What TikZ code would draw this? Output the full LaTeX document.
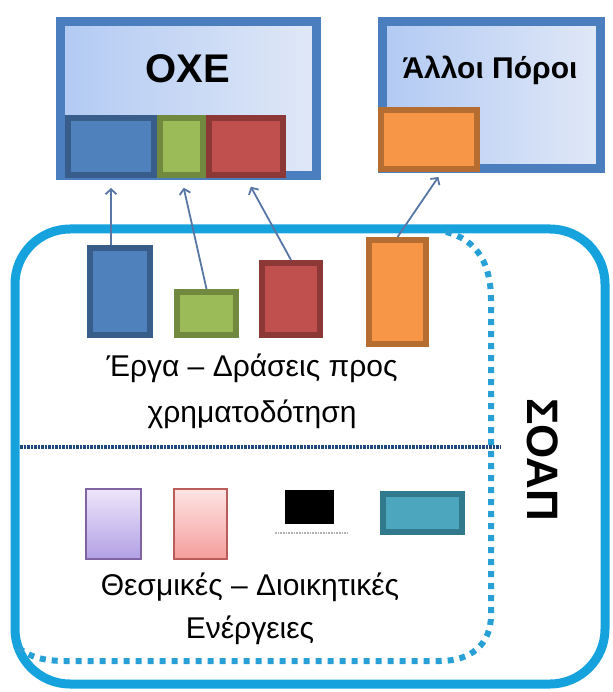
\documentclass[tikz,border=0pt]{standalone}
\usepackage{fontspec}
\setmainfont{Liberation Sans}
\usetikzlibrary{arrows.meta,calc}

\definecolor{soapcyan}{RGB}{22,163,221}
\definecolor{soapdot}{RGB}{40,160,214}
\definecolor{oxeline}{RGB}{74,126,190}
\definecolor{oxeleft}{RGB}{178,202,243}
\definecolor{oxeright}{RGB}{224,232,247}
\definecolor{pblue}{RGB}{79,129,189}
\definecolor{pbluedark}{RGB}{56,93,138}
\definecolor{pgreen}{RGB}{155,187,89}
\definecolor{pgreendark}{RGB}{113,137,63}
\definecolor{pred}{RGB}{192,80,77}
\definecolor{preddark}{RGB}{140,56,54}
\definecolor{porange}{RGB}{247,150,70}
\definecolor{porangedark}{RGB}{182,109,49}
\definecolor{pteal}{RGB}{75,166,190}
\definecolor{ptealdark}{RGB}{49,122,142}
\definecolor{lavtop}{RGB}{238,230,251}
\definecolor{lavbot}{RGB}{178,160,228}
\definecolor{lavline}{RGB}{128,100,162}
\definecolor{rosetop}{RGB}{253,228,227}
\definecolor{rosebot}{RGB}{244,158,156}
\definecolor{roseline}{RGB}{186,92,90}
\definecolor{arrowblue}{RGB}{88,118,165}
\definecolor{sepnavy}{RGB}{31,73,125}

\begin{document}
\begin{tikzpicture}[x=1pt,y=-1pt,
  fund/.style={draw=oxeline, line width=9pt, left color=oxeleft, right color=oxeright, inner sep=0pt},
  proj/.style 2 args={draw=#2, fill=#1, line width=6pt, inner sep=0pt},
  measure/.style n args={3}{draw=#3, top color=#1, bottom color=#2, line width=2pt, inner sep=0pt},
  link/.style={draw=arrowblue, line width=1.8pt, -{Straight Barb[length=5pt,width=11pt]}, shorten >=10pt},
  label/.style={font=\fontsize{30}{46}\selectfont, align=center, inner sep=0pt}
]
\useasboundingbox (0,0) rectangle (612,692);

%SOAP frame, solid and dotted
\draw[soapcyan, line width=9pt, rounded corners=55pt] (15,229) rectangle (605,684);
\draw[soapdot, line width=6pt, dash pattern=on 6pt off 6pt] (446,232) .. controls (478,240) and (491,265) .. (491,300) -- (491,615) .. controls (491,645) and (470,661) .. (440,661) -- (65,661) .. controls (45,661) and (28,657) .. (18,647);
\draw[sepnavy, line width=3.5pt, dash pattern=on 2.5pt off 1pt] (20,447) -- (500,447);

%funding sources
\node[fund, minimum width=256pt, minimum height=154pt] (oxe) at (188.5,98.5) {};
\node[fund, minimum width=218pt, minimum height=147pt] (other) at (491.5,95) {};
\node[font=\bfseries\fontsize{40}{42}\selectfont] (oxetxt) at (188,69) {ΟΧΕ};
\node[font=\bfseries\fontsize{30}{32}\selectfont] (othertxt) at (490,70) {Άλλοι Πόροι};

\node[proj={pblue}{pbluedark}, minimum width=86pt, minimum height=57pt] (tblue) at (111,146.5) {};
\node[proj={pgreen}{pgreendark}, minimum width=43pt, minimum height=57pt] (tgreen) at (181.5,146.5) {};
\node[proj={pred}{preddark}, minimum width=74pt, minimum height=57pt] (tred) at (246,146.5) {};
\node[proj={porange}{porangedark}, minimum width=96pt, minimum height=59pt] (torange) at (429,139.5) {};

%projects - actions
\node[proj={pblue}{pbluedark}, minimum width=60pt, minimum height=87pt] (mblue) at (120,291.5) {};
\node[proj={pgreen}{pgreendark}, minimum width=59pt, minimum height=43pt] (mgreen) at (206.5,313.5) {};
\node[proj={pred}{preddark}, minimum width=58pt, minimum height=72pt] (mred) at (291,299) {};
\node[proj={porange}{porangedark}, minimum width=57pt, minimum height=104pt] (morange) at (397.5,292) {};
\node[label] (projtxt) at (252,391) {Έργα – Δράσεις προς\\χρηματοδότηση};

%institutional - administrative actions
\node[measure={lavtop}{lavbot}{lavline}, minimum width=55pt, minimum height=70pt] (bviolet) at (113.5,524) {};
\node[measure={rosetop}{rosebot}{roseline}, minimum width=53pt, minimum height=70pt] (bpink) at (200.5,524) {};
\node[draw=black, fill=black, inner sep=0pt, minimum width=48pt, minimum height=33pt] (bblack) at (309,506.5) {};
\node[proj={pteal}{ptealdark}, minimum width=79pt, minimum height=38pt] (bteal) at (422.5,513) {};
\draw[gray!60, line width=1.5pt, dash pattern=on 1pt off 0.6pt] ($(bblack.south west)+(-10,10)$) -- ($(bblack.south east)+(14,10)$);
\node[label, font=\fontsize{30}{43}\selectfont] (instxt) at (250,609) {Θεσμικές – Διοικητικές\\Ενέργειες};

\node[font=\bfseries\fontsize{44}{46}\selectfont, rotate=-90] (soap) at (543,460) {ΣΟΑΠ};

%links to the funding sources
\draw[link] (tblue.south |- mblue.north) -- (tblue.south);
\draw[link] (mgreen.north) -- (tgreen.south);
\draw[link] (mred.north) -- (tred.south);
\draw[link, shorten >=6pt] (morange.north) -- ($(torange.south)!.25!(torange.south east)$);

\end{tikzpicture}
\end{document}
